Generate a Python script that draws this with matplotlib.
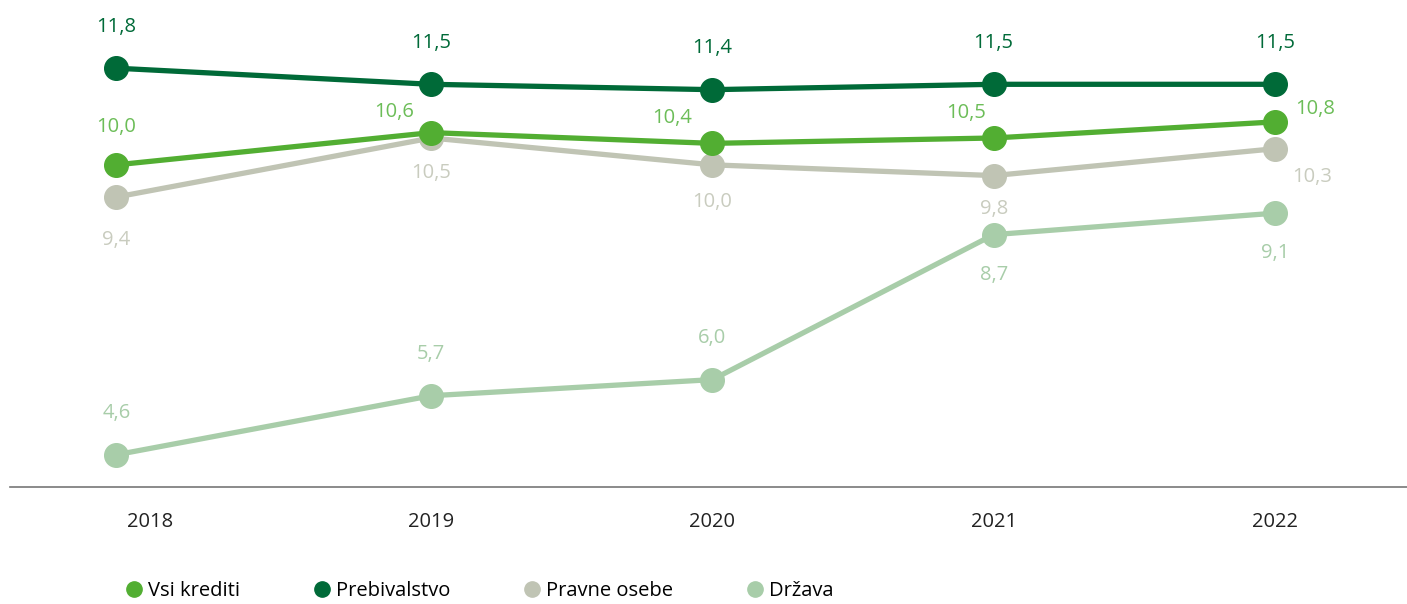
import matplotlib
matplotlib.use("Agg")
import matplotlib.pyplot as plt
from matplotlib.lines import Line2D

years = ["2018", "2019", "2020", "2021", "2022"]
vsi_krediti = [10.0, 10.6, 10.4, 10.5, 10.8]
prebivalstvo = [11.8, 11.5, 11.4, 11.5, 11.5]
pravne_osebe = [9.4, 10.5, 10.0, 9.8, 10.3]
drzava = [4.6, 5.7, 6.0, 8.7, 9.1]

series_names = ["Vsi krediti", "Prebivalstvo", "Pravne osebe", "Država"]
line_colors = ["#52ae32", "#006a38", "#c0c4b4", "#a8cda9"]
label_colors = ["#6cbd58", "#006a38", "#c9ccbf", "#a8cda9"]

plt.rcParams['font.family'] = ['Open Sans', 'DejaVu Sans']

fig = plt.figure(figsize=(14.07, 6.04), dpi=100)
ax = fig.add_axes([10 / 1407, 117 / 604, 1 - 10 / 1407, 487 / 604])

# the first point in the source sits a bit left of its tick
xs = [-0.12, 1, 2, 3, 4]

all_series = [vsi_krediti, prebivalstvo, pravne_osebe, drzava]
order = [3, 2, 0, 1]
for i in order:
    ax.plot(xs, all_series[i], color=line_colors[i], lw=3.8, marker="o",
            markersize=17, zorder=3 + (i == 0) + (i == 1))

def fmt(v):
    return ("%.1f" % v).replace(".", ",")

# label offsets in points (dx, dy) per series and year
offs = {
    0: [(0, 27), (-27, 15), (-29, 18), (-20, 18), (29, 9)],
    1: [(0, 30), (0, 30), (0, 30), (0, 30), (0, 30)],
    2: [(0, -31), (0, -25), (0, -27), (0, -24), (27, -20)],
    3: [(0, 30), (0, 30), (0, 30), (0, -29), (0, -29)],
}
for i in range(4):
    for j, v in enumerate(all_series[i]):
        dx, dy = offs[i][j]
        ax.annotate(fmt(v), (xs[j], v), xytext=(dx, dy), textcoords="offset points",
                    ha="center", va="center", fontsize=14.5, color=label_colors[i])

ax.set_xlim(-0.498, 4.47)
ax.set_ylim(4.0, 13.07)
ax.set_xticks(range(len(years)))
ax.set_xticklabels(years, fontsize=14.5, color="#222222")
ax.tick_params(axis="x", length=0, pad=18)
ax.set_yticks([])
for s in ["top", "right", "left"]:
    ax.spines[s].set_visible(False)
ax.spines["bottom"].set_color("#777777")
ax.spines["bottom"].set_linewidth(1.2)

handles = [Line2D([], [], lw=0, marker="o", markersize=11, color=c) for c in line_colors]
fig.legend(handles, series_names, loc="lower left", bbox_to_anchor=(0.074, -0.025),
           ncol=4, frameon=False, fontsize=14.5, handletextpad=0.1,
           columnspacing=3.45, handlelength=1.2)

fig.savefig("out.png", dpi=100)
